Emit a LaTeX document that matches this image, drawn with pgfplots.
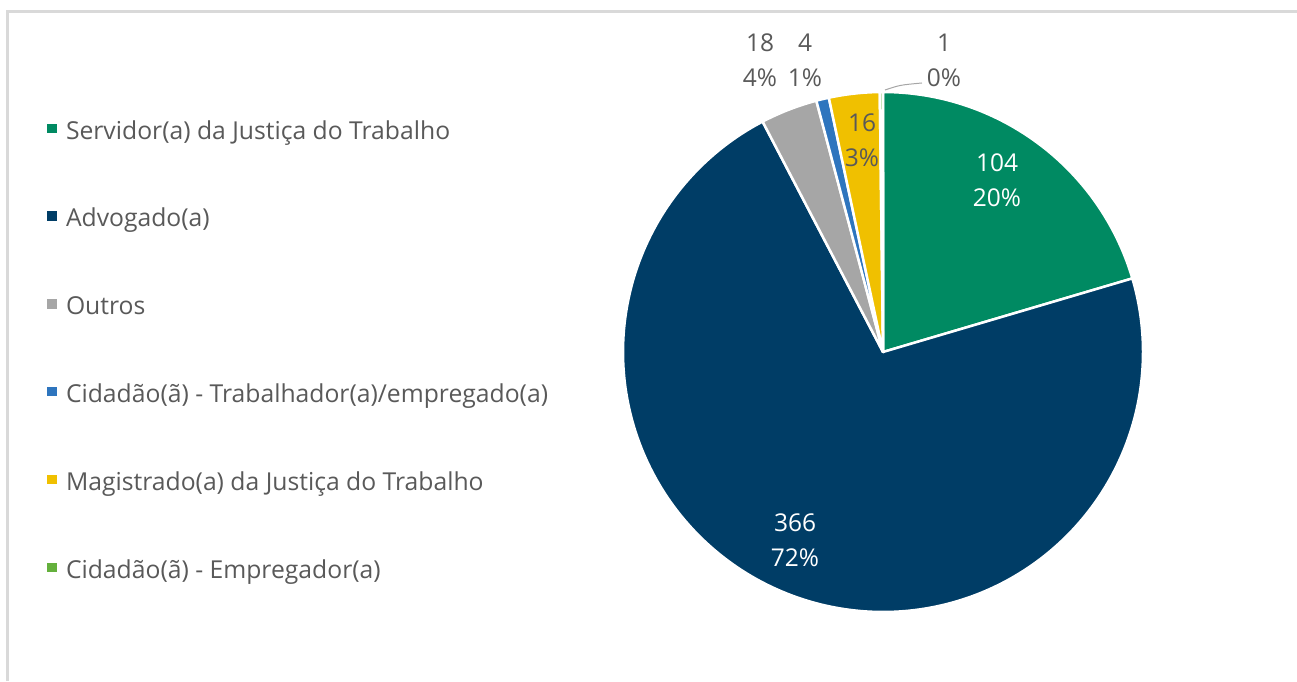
\documentclass[border=0pt]{standalone}
\usepackage{pgfplots}
\pgfplotsset{compat=1.18}
\usepackage{fontspec}
\setmainfont{Open Sans}
\definecolor{cServ}{RGB}{0,138,98}
\definecolor{cAdv}{RGB}{0,61,102}
\definecolor{cOut}{RGB}{166,166,166}
\definecolor{cTrab}{RGB}{46,117,190}
\definecolor{cMag}{RGB}{240,192,0}
\definecolor{cEmp}{RGB}{100,176,60}
\definecolor{txt}{RGB}{89,89,89}
\definecolor{frame}{RGB}{217,217,217}
% values
\def\vA{104}\def\vB{366}\def\vC{18}\def\vD{4}\def\vE{16}\def\vF{1}
\pgfmathsetmacro\tot{\vA+\vB+\vC+\vD+\vE+\vF}
\pgfmathsetmacro\k{360/\tot}
\pgfmathsetmacro\aO{90}
\pgfmathsetmacro\aA{\aO-\k*\vA}
\pgfmathsetmacro\aB{\aA-\k*\vB}
\pgfmathsetmacro\aC{\aB-\k*\vC}
\pgfmathsetmacro\aD{\aC-\k*\vD}
\pgfmathsetmacro\aE{\aD-\k*\vE}
\pgfmathsetmacro\aF{\aE-\k*\vF}
\def\cx{883}\def\cy{329}\def\R{260}
\begin{document}
\begin{tikzpicture}
\begin{axis}[
  x=1pt, y=1pt,
  xmin=0, xmax=1297, ymin=0, ymax=681,
  hide axis, clip=false,
  legend image code/.code={\fill[#1,draw=none] (0pt,-0.5pt) rectangle (9.5pt,9pt);},
  legend cell align=left,
  legend style={at={(axis cs:47,561)}, anchor=north west, draw=none, fill=none,
    inner sep=0pt, outer sep=0pt, column sep=9.5pt, row sep=62.8pt,
    font=\fontsize{24.7}{28}\selectfont, text=txt,
    nodes={inner sep=0pt, text height=19pt, text depth=6pt}},
]
\addplot[fill=cServ, draw=white, line width=2.5pt, line join=round, domain=\aA:\aO, samples=80]
  ({\cx+\R*cos(x)},{\cy+\R*sin(x)}) -- (axis cs:\cx,\cy) -- cycle;
\addplot[fill=cAdv, draw=white, line width=2.5pt, line join=round, domain=\aB:\aA, samples=240]
  ({\cx+\R*cos(x)},{\cy+\R*sin(x)}) -- (axis cs:\cx,\cy) -- cycle;
\addplot[fill=cOut, draw=white, line width=2.5pt, line join=round, domain=\aC:\aB, samples=20]
  ({\cx+\R*cos(x)},{\cy+\R*sin(x)}) -- (axis cs:\cx,\cy) -- cycle;
\addplot[fill=cTrab, draw=white, line width=2.5pt, line join=round, domain=\aD:\aC, samples=10]
  ({\cx+\R*cos(x)},{\cy+\R*sin(x)}) -- (axis cs:\cx,\cy) -- cycle;
\addplot[fill=cMag, draw=white, line width=2.5pt, line join=round, domain=\aE:\aD, samples=20]
  ({\cx+\R*cos(x)},{\cy+\R*sin(x)}) -- (axis cs:\cx,\cy) -- cycle;
\addplot[fill=cEmp, draw=white, line width=2.5pt, line join=round, domain=\aF:\aE, samples=5]
  ({\cx+\R*cos(x)},{\cy+\R*sin(x)}) -- (axis cs:\cx,\cy) -- cycle;
\legend{Servidor(a) da Justiça do Trabalho, Advogado(a), Outros,
  Cidadão(ã) - Trabalhador(a)/empregado(a), Magistrado(a) da Justiça do Trabalho,
  Cidadão(ã) - Empregador(a)}
% frame
\draw[frame, line width=3pt] (axis cs:7.5,0) -- (axis cs:7.5,669.5) -- (axis cs:1297,669.5);
% data labels
\tikzset{lab/.style={font=\fontsize{24.5}{35}\selectfont, align=center, inner sep=0pt}}
\node[lab, text=white] at (axis cs:997,501) {104\\20\%};
\node[lab, text=white] at (axis cs:795,141) {366\\72\%};
\node[lab, text=txt] at (axis cs:862,541) {16\\3\%};
\node[lab, text=txt] at (axis cs:760,621) {18\\4\%};
\node[lab, text=txt] at (axis cs:805,621) {4\\1\%};
\node[lab, text=txt] at (axis cs:944,621) {1\\0\%};
\draw[cOut, line width=1pt] (axis cs:885,591) .. controls (axis cs:900,596) .. (axis cs:922,598);
\end{axis}
\pgfresetboundingbox
\path (0,0) rectangle (1297pt,681pt);
\end{tikzpicture}
\end{document}
